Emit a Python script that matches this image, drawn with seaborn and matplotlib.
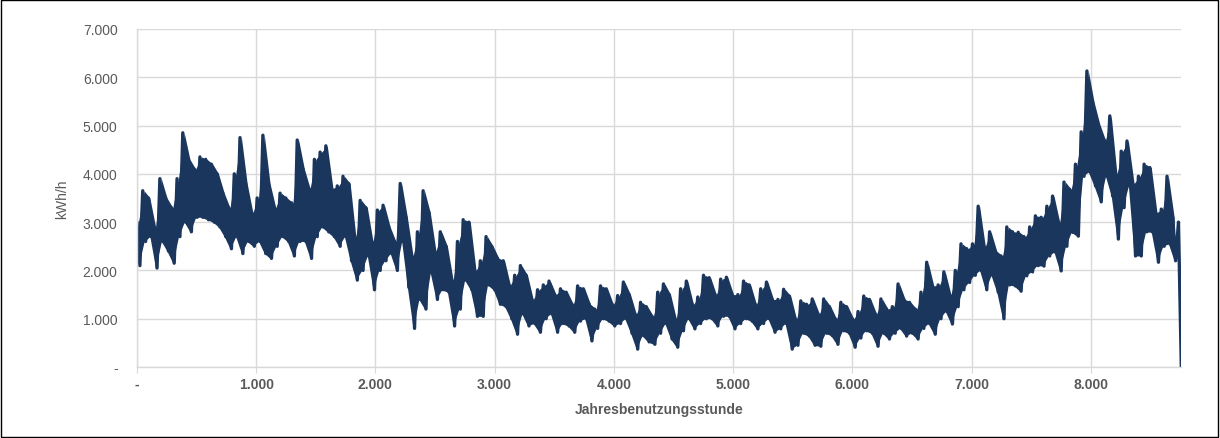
import numpy as np
import pandas as pd
import seaborn as sns
import matplotlib.pyplot as plt
from matplotlib.patches import Rectangle
from matplotlib.ticker import FuncFormatter

sns.set_style("white")
plt.rcParams['font.family'] = ['Liberation Sans', 'DejaVu Sans']

# daily peaks (every 48 h) and troughs (24 h later), kWh/h
peaks = [3000, 3650, 3500, 2900, 3900, 3500, 3300, 3900, 4850, 4300,
         4100, 4350, 4300, 4200, 4000, 3600, 3300, 4000, 4750, 3800,
         3200, 3500, 4800, 3800, 3300, 3600, 3500, 3400, 4700, 4100,
         3700, 4300, 4450, 4580, 3700, 3750, 3950, 3800, 2700, 3450,
         3300, 2600, 3250, 3350, 2900, 2600, 3800, 3100, 2300, 2800,
         3650, 3200, 2400, 2800, 2500, 1800, 2600, 3050, 3000, 2000,
         2200, 2700, 2500, 2250, 2200, 1700, 1900, 2100, 1900, 1400,
         1600, 1700, 1780, 1500, 1620, 1550, 1300, 1680, 1620, 1300,
         1200, 1680, 1620, 1300, 1480, 1760, 1500, 1100, 1340, 1250,
         1050, 1550, 1720, 1500, 1000, 1620, 1780, 1300, 1450, 1900,
         1850, 1500, 1820, 1860, 1500, 1500, 1780, 1700, 1300, 1620,
         1760, 1400, 1400, 1610, 1470, 1000, 1370, 1300, 1410, 1100,
         1410, 1250, 1000, 1340, 1250, 1000, 1150, 1470, 1400, 1100,
         1410, 1200, 1250, 1720, 1400, 1340, 1200, 1550, 2170, 1680,
         1700, 1970, 1500, 2000, 2550, 2450, 2550, 3330, 2500, 2800,
         2400, 2300, 2900, 2800, 2790, 2700, 2900, 3130, 3100, 3330,
         3540, 3000, 3830, 3680, 4200, 4870, 6130, 5490, 5030, 4700,
         5200, 4000, 4470, 4680, 3800, 3950, 4200, 4130, 3200, 3270,
         3950, 3100, 3000]
troughs = [2100, 2600, 2700, 2050, 2600, 2400, 2150, 2700, 3000, 2800,
           3100, 3100, 3050, 3000, 2900, 2700, 2450, 2700, 2350, 2600,
           2500, 2600, 2350, 2250, 2500, 2700, 2600, 2300, 2600, 2600,
           2250, 2700, 2900, 2800, 2700, 2500, 2700, 2200, 1800, 2000,
           2300, 1600, 2000, 2200, 2350, 2000, 2600, 1650, 800, 1400,
           1200, 1950, 1400, 1600, 1550, 850, 1200, 1800, 1600, 1050,
           1050, 1700, 1600, 1300, 1250, 1000, 680, 1100, 850, 900,
           720, 1000, 1100, 720, 900, 850, 720, 950, 1000, 540,
           800, 1000, 950, 850, 900, 1000, 700, 370, 650, 520,
           470, 700, 900, 580, 410, 750, 1000, 790, 900, 1000,
           1000, 850, 1050, 1050, 790, 900, 1000, 950, 790, 900,
           1000, 720, 790, 900, 370, 450, 700, 640, 450, 430,
           700, 650, 470, 750, 700, 410, 600, 750, 700, 430,
           700, 580, 700, 800, 640, 700, 580, 800, 900, 680,
           1000, 1150, 890, 1250, 1600, 1750, 1900, 2000, 1600, 1900,
           1550, 1000, 1700, 1680, 1570, 1890, 1970, 2100, 2090, 2300,
           2380, 1990, 2500, 2790, 2710, 3950, 4040, 3750, 3420, 3950,
           3540, 2650, 3300, 3750, 2300, 2300, 2800, 2790, 2170, 2500,
           2550, 2200]
last_hour_value = 0

y_ticks = [0, 1000, 2000, 3000, 4000, 5000, 6000, 7000]
x_ticks = [0, 1000, 2000, 3000, 4000, 5000, 6000, 7000, 8000]
navy = "#1b365d"

values = []
for i in range(len(peaks)):
    values.append(peaks[i])
    if i < len(troughs):
        values.append(troughs[i])
hours = list(np.arange(0, 24 * len(values), 24)) + [8760]
values.append(last_hour_value)
df = pd.DataFrame({"Stunde": hours, "Last": values})

fig = plt.figure(figsize=(12.2, 4.39), dpi=100)
ax = fig.add_axes([0.1123, 0.1617, 0.856, 0.77])

# band between daily peaks and troughs, so the hourly line looks as dense as in Excel
band_x = np.arange(len(troughs)) * 48 + 12
ax.fill_between(band_x, troughs, peaks[:len(troughs)], color=navy, linewidth=0)
sns.lineplot(data=df, x="Stunde", y="Last", ax=ax, color=navy,
             linewidth=2.4, sort=False)

ax.set_xlim(0, 8760)
ax.set_ylim(0, 7000)
ax.set_xticks(x_ticks)
ax.set_yticks(y_ticks)


def de_fmt(v, pos):
    if v == 0:
        return "-"
    return f"{int(v):,}".replace(",", ".")


ax.xaxis.set_major_formatter(FuncFormatter(de_fmt))
ax.yaxis.set_major_formatter(FuncFormatter(de_fmt))
ax.grid(True, color="#d9d9d9", linewidth=1)
ax.set_axisbelow(True)
for s in ["top", "right"]:
    ax.spines[s].set_visible(False)
for s in ["left", "bottom"]:
    ax.spines[s].set_color("#d9d9d9")
    ax.spines[s].set_linewidth(1)
ax.tick_params(axis="x", length=4, color="#d9d9d9", pad=3, labelsize=10,
               labelcolor="#595959", bottom=True)
ax.tick_params(axis="y", length=0, pad=14, labelsize=10, labelcolor="#595959")
for lbl in ax.get_xticklabels():
    lbl.set_fontweight("bold")

ax.set_xlabel("Jahresbenutzungsstunde", fontsize=10, fontweight="bold",
              color="#595959", labelpad=8)
ax.set_ylabel("kWh/h", fontsize=10, color="#595959", labelpad=10)

fig.patches.append(Rectangle((0.001, 0.002), 0.997, 0.995, transform=fig.transFigure,
                             fill=False, edgecolor="black", linewidth=1))

plt.savefig("out.png", dpi=100)
